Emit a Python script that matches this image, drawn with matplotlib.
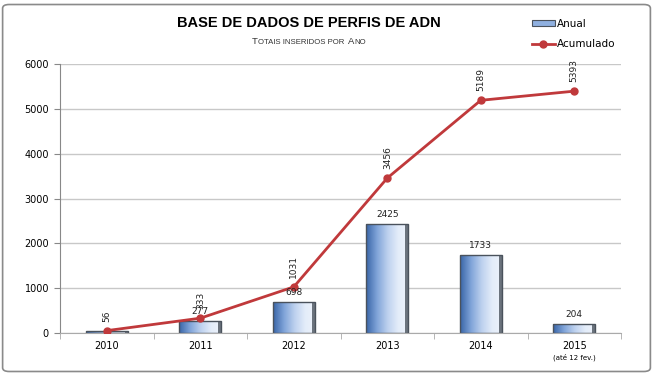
import matplotlib
matplotlib.use("Agg")

import numpy as np
import matplotlib.pyplot as plt
from matplotlib.colors import LinearSegmentedColormap
from matplotlib.patches import Rectangle, FancyBboxPatch
from matplotlib.lines import Line2D

years = ["2010", "2011", "2012", "2013", "2014", "2015"]
anual = [56, 277, 698, 2425, 1733, 204]
acumulado = [56, 333, 1031, 3456, 5189, 5393]
yticks = [0, 1000, 2000, 3000, 4000, 5000, 6000]

red = "#c0393b"
grad = LinearSegmentedColormap.from_list(
    "bar", ["#3a66a8", "#7fa3d8", "#bcd0ee", "#e3ecf9", "#eef3fb"])

fig = plt.figure(figsize=(6.53, 3.76), dpi=100)
ax = fig.add_axes([0.092, 0.114, 0.859, 0.716])

x = np.arange(len(years))
bars = ax.bar(x, anual, width=0.45, color="none", edgecolor="#4a525c",
              linewidth=1.0, zorder=2)
g = np.linspace(0, 1, 64).reshape(1, -1)
for b in bars:
    x0, y0 = b.get_x(), b.get_y()
    w, h = b.get_width(), b.get_height()
    im = ax.imshow(g, cmap=grad, extent=[x0, x0 + w, y0, y0 + h],
                   aspect="auto", zorder=1.5, interpolation="bicubic")
    im.set_clip_path(b)
    # darker bevel on the right side
    ax.add_patch(Rectangle((x0 + w * 0.93, y0), w * 0.07, h,
                           facecolor="#6b737d", edgecolor="none", zorder=1.8))

ax.plot(x, acumulado, color=red, linewidth=2, marker="o", markersize=5,
        zorder=4)

for i, v in enumerate(anual):
    if i == 0:
        continue
    ax.text(x[i], v + 110, str(v), ha="center", va="bottom", fontsize=6.5,
            color="#222222", zorder=5)
for i, v in enumerate(acumulado):
    ax.text(x[i], v + 200, str(v), ha="center", va="bottom", rotation=90,
            fontsize=6.5, color="#222222", zorder=5)

ax.set_xlim(-0.5, len(years) - 0.5)
ax.set_ylim(0, 6000)
ax.set_yticks(yticks)
ax.set_yticklabels([str(t) for t in yticks], fontsize=7)
ax.set_xticks(x)
ax.set_xticklabels(years, fontsize=7)
ax.tick_params(axis="x", length=0, pad=6)
ax.tick_params(axis="y", length=4, color="#888888", pad=4)
ax.set_xticks(np.arange(-0.5, len(years), 1), minor=True)
ax.tick_params(axis="x", which="minor", length=4, color="#aaaaaa")
ax.grid(axis="y", color="#c8c8c8", linewidth=1)
ax.set_axisbelow(True)
for s in ["top", "right"]:
    ax.spines[s].set_visible(False)
ax.spines["left"].set_color("#888888")
ax.spines["bottom"].set_color("#aaaaaa")
ax.text(x[-1], -0.075, "(até 12 fev.)", transform=ax.get_xaxis_transform(),
        ha="center", va="top", fontsize=5)

fig.text(0.473, 0.94, "BASE DE DADOS DE PERFIS DE ADN", ha="center",
         va="center", fontsize=10.5, fontweight="bold",
         family="Liberation Sans")

# subtitle in small caps, built from pieces (gap = extra space after piece)
pieces = [("T", 6.8, 0), ("OTAIS INSERIDOS POR", 5.6, 0.005),
          ("A", 6.8, 0), ("NO", 5.6, 0)]
fig.canvas.draw()
r = fig.canvas.get_renderer()
objs = []
for s, fs, gap in pieces:
    t = fig.text(0, 0.882, s, fontsize=fs, color="#333333", va="baseline",
                 ha="left", family="Liberation Sans")
    objs.append((t, gap))
widths = [t.get_window_extent(renderer=r).width / fig.bbox.width + gap
          for t, gap in objs]
xs = 0.473 - sum(widths) / 2
for (t, gap), wd in zip(objs, widths):
    t.set_x(xs)
    xs += wd

# legend
leg_handles = [
    Rectangle((0, 0), 1, 1, facecolor="#8fb0e0", edgecolor="#4a525c", lw=0.8),
    Line2D([0], [0], color=red, lw=2, marker="o", markersize=5),
]
fig.legend(leg_handles, ["Anual", "Acumulado"], loc="upper left",
           bbox_to_anchor=(0.8, 0.975), frameon=False, fontsize=7.5,
           handlelength=2.2, handleheight=0.4, labelspacing=1.0,
           handletextpad=0.2)

fig.patches.append(FancyBboxPatch((0.004, 0.012), 0.992, 0.976,
                                  boxstyle="round,pad=0,rounding_size=0.01",
                                  transform=fig.transFigure, fill=False,
                                  edgecolor="#8a8a8a", linewidth=1.2))

fig.savefig("out.png", dpi=100)
